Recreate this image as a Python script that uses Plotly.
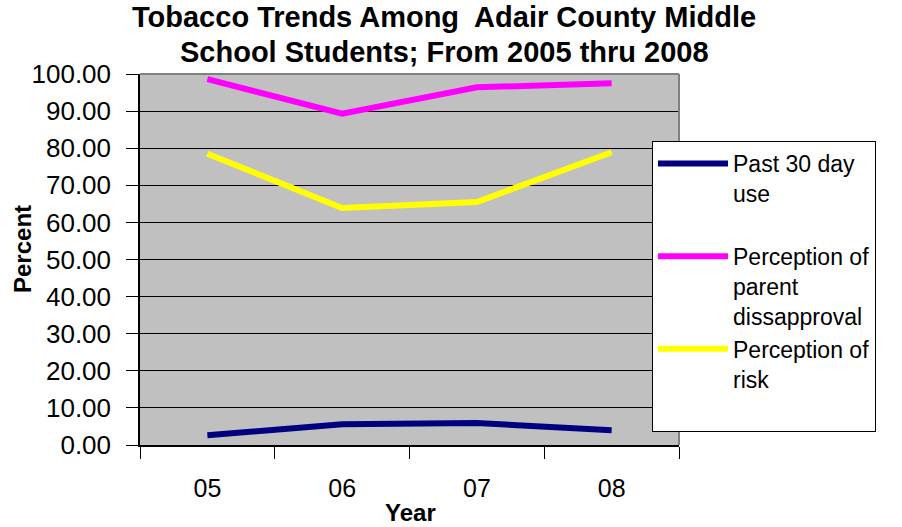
import plotly.graph_objects as go

# Survey years (two-digit labels) and percentages per measure
years = ["05", "06", "07", "08"]
past_30_day_use = [2.6, 5.6, 5.9, 4.0]
parent_disapproval = [98.6, 89.3, 96.4, 97.5]
perception_of_risk = [78.5, 63.9, 65.5, 78.9]

series_names = [
    "Past 30 day<br>use<br> ",
    "Perception of<br>parent<br>dissapproval",
    "Perception of<br>risk<br> ",
]
series_values = [past_30_day_use, parent_disapproval, perception_of_risk]
series_colors = ["#000080", "#FF00FF", "#FFFF00"]

title_lines = [
    "Tobacco Trends Among  Adair County Middle",
    "School Students; From 2005 thru 2008",
]

FONT = "Liberation Sans, Arial, sans-serif"

fig = go.Figure()
for name, vals, col in zip(series_names, series_values, series_colors):
    fig.add_trace(go.Scatter(
        x=years, y=vals, name=name, mode="lines",
        line=dict(color=col, width=6),
    ))

fig.update_layout(
    width=902, height=527,
    margin=dict(l=140, r=223, t=74, b=82, autoexpand=False),
    paper_bgcolor="white",
    plot_bgcolor="#C0C0C0",
    font=dict(family=FONT, color="black"),
    showlegend=True,
    legend=dict(
        x=(652 - 140) / 539, xanchor="left",
        y=(445 - 141) / 371, yanchor="top",
        bgcolor="white", bordercolor="black", borderwidth=1,
        font=dict(size=23, family=FONT),
        valign="top", itemwidth=70, tracegroupgap=0,
        entrywidth=300, entrywidthmode="pixels",
    ),
)

# Chart title, one annotation per line for tight line spacing
for line_text, y_center in zip(title_lines, [17, 52]):
    fig.add_annotation(
        text=f"<b>{line_text}</b>",
        xref="paper", yref="paper", x=(444 - 140) / 539, y=1 + (74 - y_center) / 371,
        xanchor="center", yanchor="middle", showarrow=False,
        font=dict(size=29, family=FONT),
    )

fig.update_xaxes(
    type="category", range=[-0.5, 3.5],
    tickson="boundaries", ticks="outside", ticklen=12, tickcolor="black",
    showline=True, linecolor="black", linewidth=1.5,
    showgrid=False, zeroline=False,
    tickfont=dict(size=25, family=FONT),
    ticklabelstandoff=20,
)
fig.update_yaxes(
    range=[0, 100], dtick=10, tickformat=".2f",
    ticks="outside", ticklen=12, tickcolor="black",
    showline=True, linecolor="black", linewidth=1.5,
    showgrid=True, gridcolor="black", gridwidth=1.2,
    zeroline=False,
    tickfont=dict(size=26, family=FONT),
    ticklabelstandoff=10,
)

# Gray frame on the top and right edges of the plotting area
fig.add_shape(type="line", xref="paper", yref="paper", x0=0, x1=1, y0=1, y1=1,
              line=dict(color="#808080", width=2))
fig.add_shape(type="line", xref="paper", yref="paper", x0=1, x1=1, y0=0, y1=1,
              line=dict(color="#808080", width=2))

# Axis titles
fig.add_annotation(text="<b>Percent</b>", textangle=-90, xref="paper", yref="paper",
                   x=-(140 - 22) / 539, y=(445 - 249) / 371, xanchor="center", yanchor="middle",
                   showarrow=False, font=dict(size=24, family=FONT))
fig.add_annotation(text="<b>Year</b>", xref="paper", yref="paper",
                   x=(410 - 140) / 539, y=-(512 - 445) / 371, xanchor="center", yanchor="middle",
                   showarrow=False, font=dict(size=24, family=FONT))

fig.write_html("out.html")
